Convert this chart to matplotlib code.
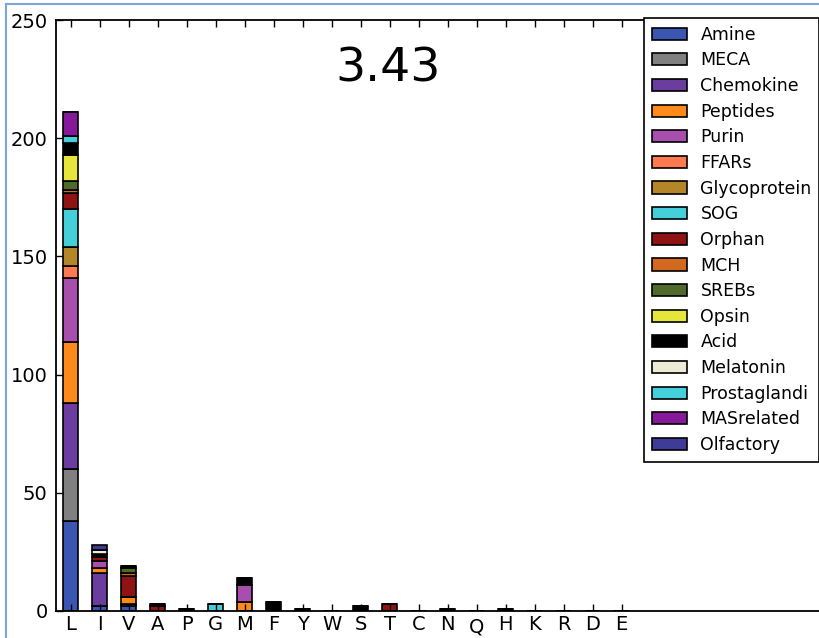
#!/usr/bin/env python3
"""Stacked residue counts per receptor family at position 3.43."""

import matplotlib
matplotlib.use("Agg")
import matplotlib.pyplot as plt
from matplotlib.lines import Line2D
import numpy as np

RESIDUES = ["L", "I", "V", "A", "P", "G", "M", "F", "Y", "W",
            "S", "T", "C", "N", "Q", "H", "K", "R", "D", "E"]

FAMILIES = ["Amine", "MECA", "Chemokine", "Peptides", "Purin", "FFARs",
            "Glycoprotein", "SOG", "Orphan", "MCH", "SREBs", "Opsin",
            "Acid", "Melatonin", "Prostaglandi", "MASrelated", "Olfactory"]

FAMILY_COLORS = ["#3a56b2", "#808080", "#6a3d9e", "#ff8a1c", "#a84fae",
                 "#ff7a50", "#b5852a", "#45cfda", "#8e1414", "#d2691e",
                 "#4e6b2c", "#e6e53a", "#000000", "#ecebd6", "#45cfdc",
                 "#85199a", "#3e3c98"]

# counts per family, one entry per residue in RESIDUES order
#                L   I  V  A  P  G  M  F  Y  W  S  T  C  N  Q  H  K  R  D  E
amine =        [38,  2, 2, 0, 0, 0, 0, 0, 0, 0, 0, 0, 0, 0, 0, 0, 0, 0, 0, 0]
meca =         [22,  0, 0, 0, 0, 0, 0, 0, 0, 0, 0, 0, 0, 0, 0, 0, 0, 0, 0, 0]
chemokine =    [28, 14, 1, 0, 0, 0, 0, 0, 0, 0, 0, 0, 0, 0, 0, 0, 0, 0, 0, 0]
peptides =     [26,  2, 3, 0, 0, 0, 4, 0, 0, 0, 0, 0, 0, 0, 0, 0, 0, 0, 0, 0]
purin =        [27,  3, 0, 0, 0, 0, 7, 0, 0, 0, 0, 0, 0, 0, 0, 0, 0, 0, 0, 0]
ffars =        [ 5,  0, 0, 0, 0, 0, 0, 0, 0, 0, 0, 0, 0, 0, 0, 0, 0, 0, 0, 0]
glycoprotein = [ 8,  0, 0, 0, 0, 0, 0, 0, 0, 0, 0, 0, 0, 0, 0, 0, 0, 0, 0, 0]
sog =          [16,  0, 0, 0, 0, 3, 0, 0, 0, 0, 0, 0, 0, 0, 0, 0, 0, 0, 0, 0]
orphan =       [ 7,  2, 9, 2, 0, 0, 0, 0, 0, 0, 0, 3, 0, 0, 0, 0, 0, 0, 0, 0]
mch =          [ 1,  0, 1, 0, 0, 0, 0, 0, 0, 0, 0, 0, 0, 0, 0, 0, 0, 0, 0, 0]
srebs =        [ 4,  0, 2, 0, 0, 0, 0, 0, 0, 0, 0, 0, 0, 0, 0, 0, 0, 0, 0, 0]
opsin =        [11,  0, 0, 0, 0, 0, 0, 0, 0, 0, 0, 0, 0, 0, 0, 0, 0, 0, 0, 0]
acid =         [ 5,  1, 1, 1, 1, 0, 3, 4, 1, 0, 2, 0, 0, 1, 0, 1, 0, 0, 0, 0]
melatonin =    [ 0,  2, 0, 0, 0, 0, 0, 0, 0, 0, 0, 0, 0, 0, 0, 0, 0, 0, 0, 0]
prostaglandi = [ 3,  0, 0, 0, 0, 0, 0, 0, 0, 0, 0, 0, 0, 0, 0, 0, 0, 0, 0, 0]
masrelated =   [10,  0, 0, 0, 0, 0, 0, 0, 0, 0, 0, 0, 0, 0, 0, 0, 0, 0, 0, 0]
olfactory =    [ 0,  2, 0, 0, 0, 0, 0, 0, 0, 0, 0, 0, 0, 0, 0, 0, 0, 0, 0, 0]

COUNTS = [amine, meca, chemokine, peptides, purin, ffars, glycoprotein, sog,
          orphan, mch, srebs, opsin, acid, melatonin, prostaglandi,
          masrelated, olfactory]

POSITION = "3.43"


def main() -> None:
    plt.rcParams.update({
        "font.family": "DejaVu Sans",
        "xtick.direction": "in",
        "ytick.direction": "in",
    })

    W, H = 819, 638
    fig = plt.figure(figsize=(W / 100, H / 100), dpi=100)
    # axes run past the right edge of the canvas
    left, right, top, bottom = 56, 840, 20, 611
    ax = fig.add_axes([left / W, 1 - bottom / H, (right - left) / W, (bottom - top) / H])

    x = np.arange(len(RESIDUES))
    base = np.zeros(len(RESIDUES))
    for name, color, vals in zip(FAMILIES, FAMILY_COLORS, COUNTS):
        vals = np.asarray(vals, dtype=float)
        ax.bar(x, vals, width=0.54, bottom=base, color=color,
               edgecolor="black", linewidth=1.2, label=name)
        base += vals

    ax.set_xlim(-0.5, -0.5 + (right - left) / 29.0)
    ax.set_ylim(0, 250)
    ax.set_xticks(x)
    ax.set_xticklabels(RESIDUES, fontsize=14)
    ax.set_yticks(np.arange(0, 251, 50))
    ax.tick_params(axis="y", labelsize=14, length=5, width=1, pad=6)
    ax.tick_params(axis="x", length=5, width=1, pad=3, top=True)
    ax.tick_params(axis="y", right=True)
    for lbl in ax.get_xticklabels():
        if lbl.get_text() == "Q":
            lbl.set_y(-0.004)
    for sp in ax.spines.values():
        sp.set_linewidth(1.3)

    ax.text(388 / W, 1 - 69 / H, POSITION, transform=fig.transFigure,
            fontsize=34, ha="center", va="center")

    leg = ax.legend(loc="upper left", bbox_to_anchor=(644 / W, 1 - 18 / H),
                    bbox_transform=fig.transFigure, fontsize=12.5,
                    handlelength=2.0, handleheight=0.7, handletextpad=0.8,
                    labelspacing=0.44, borderpad=0.45, borderaxespad=0,
                    fancybox=False, framealpha=1)
    leg.get_frame().set_edgecolor("black")
    leg.get_frame().set_linewidth(1.2)

    # thin blue frame along the top and left edges
    fig.add_artist(Line2D([6 / W, 1], [1 - 4 / H, 1 - 4 / H], color="#7aa6dd",
                          linewidth=1.5, transform=fig.transFigure))
    fig.add_artist(Line2D([6 / W, 6 / W], [0, 1 - 4 / H], color="#7aa6dd",
                          linewidth=1.5, transform=fig.transFigure))

    fig.savefig("out.png", dpi=100)
    plt.close(fig)


if __name__ == "__main__":
    main()
